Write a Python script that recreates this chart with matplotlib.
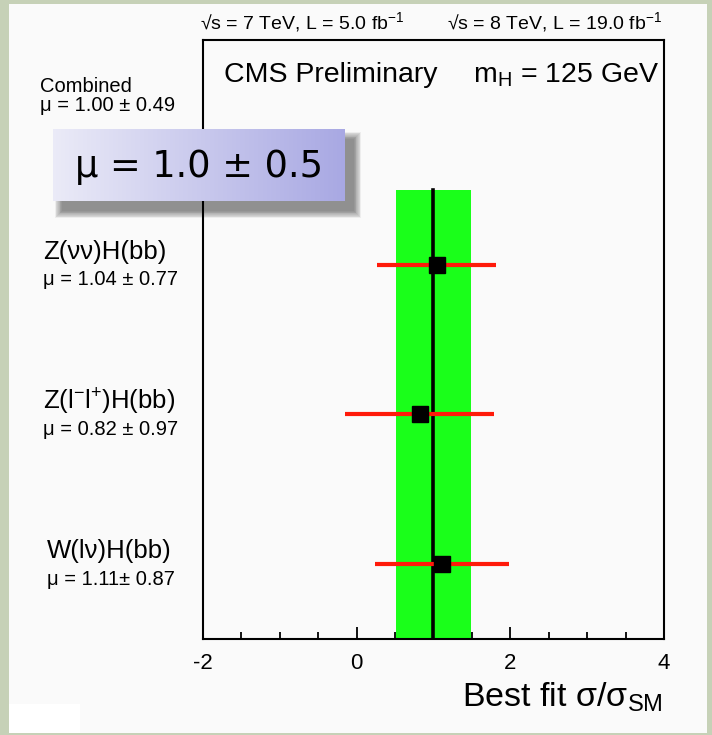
import numpy as np
import matplotlib
matplotlib.use('Agg')
import matplotlib.pyplot as plt
import matplotlib.transforms as mtransforms
from matplotlib.patches import Rectangle

plt.rcParams['font.family'] = ['Liberation Sans', 'DejaVu Sans']
plt.rcParams['mathtext.fontset'] = 'custom'
plt.rcParams['mathtext.rm'] = 'Liberation Sans'
plt.rcParams['mathtext.it'] = 'Liberation Sans'
plt.rcParams['mathtext.default'] = 'regular'

# channel results (bottom to top)
channels = ['W(lν)H(bb)', 'Z(l$^{-}$l$^{+}$)H(bb)', 'Z(νν)H(bb)']
mu = [1.11, 0.82, 1.04]
mu_err = [0.87, 0.97, 0.77]
mu_text = ['μ = 1.11± 0.87', 'μ = 0.82 ± 0.97', 'μ = 1.04 ± 0.77']
ypos = [0.5, 1.5, 2.5]

# combined result
comb_mu = 1.00
comb_err = 0.49
comb_top = 3.0

W, H = 712, 735
fig = plt.figure(figsize=(W / 100, H / 100), dpi=100)
fig.patch.set_facecolor('#c6d1b7')

# light slide panel
fig.patches.append(Rectangle((9 / W, 1 - 733 / H), 698 / W, 729 / H,
                             transform=fig.transFigure, facecolor='#fafafa',
                             edgecolor='none', zorder=-10))
fig.patches.append(Rectangle((9 / W, 1 - 733 / H), 71 / W, 29 / H,
                             transform=fig.transFigure, facecolor='white',
                             edgecolor='none', zorder=-9))

ax = fig.add_axes([203 / W, 1 - 639 / H, 461 / W, 599 / H])
ax.set_zorder(1)
ax.set_facecolor('#fafafa')

# combined band and line
ax.fill_betweenx([0, comb_top], comb_mu - comb_err, comb_mu + comb_err,
                 color='#1aff1a', linewidth=0, zorder=1)
ax.plot([comb_mu, comb_mu], [0, comb_top], color='black', lw=2.6, zorder=2)

ax.errorbar(mu, ypos, xerr=mu_err, fmt='s', color='black', ecolor='#ff1a0a',
            elinewidth=3, capsize=0, markersize=12, zorder=3)

ax.set_xlim(-2, 4)
ax.set_ylim(0, 4)
ax.set_xticks([-2, 0, 2, 4])
ax.set_xticklabels(['-2', '0', '2', '4'], fontsize=16)
ax.set_xticks(np.arange(-2, 4.01, 0.5), minor=True)
ax.set_yticks([])
ax.tick_params(axis='x', which='major', direction='in', length=9, width=1.3, pad=10)
ax.tick_params(axis='x', which='minor', direction='in', length=5, width=1.3)
for s in ax.spines.values():
    s.set_linewidth(1.5)

ax.text(0.998, -0.097, r'Best fit $\sigma/\sigma_{SM}$', transform=ax.transAxes,
        ha='right', va='center', fontsize=24.5)

ax.text(0.046, 0.9416, 'CMS Preliminary', transform=ax.transAxes,
        ha='left', va='center', fontsize=20.5)
ax.text(0.586, 0.9416, 'm$_{H}$ = 125 GeV', transform=ax.transAxes,
        ha='left', va='center', fontsize=20.5)

ax.text(-0.006, 1.030, '√s = 7 TeV, L = 5.0 fb$^{-1}$', transform=ax.transAxes,
        ha='left', va='center', fontsize=14)
ax.text(0.529, 1.030, '√s = 8 TeV, L = 19.0 fb$^{-1}$', transform=ax.transAxes,
        ha='left', va='center', fontsize=14)

# labels left of the axes
trans = mtransforms.blended_transform_factory(fig.transFigure, ax.transData)
lx = [47 / W, 43 / W, 43 / W]
for x, y, name, txt in zip(lx, ypos, channels, mu_text):
    fig.text(x, y + 0.085, name, transform=trans, ha='left', va='center', fontsize=18.5)
    fig.text(x, y - 0.1, txt, transform=trans, ha='left', va='center', fontsize=14.5)
fig.text(40 / W, 3.69, 'Combined', transform=trans, ha='left', va='center', fontsize=14.5)
fig.text(40 / W, 3.56, 'μ = %.2f ± %.2f' % (comb_mu, comb_err), transform=trans,
         ha='left', va='center', fontsize=14.5)

# highlighted result box with soft shadow
bx, by, bw, bh = 53, 129, 292, 72
for i in range(10):
    g = i * 0.8
    fig.patches.append(Rectangle(((bx + 9 - g) / W, 1 - (by + bh + 10 + g) / H),
                                 (bw + 2 * g) / W, (bh + 2 * g) / H,
                                 transform=fig.transFigure, facecolor='black',
                                 alpha=0.05, edgecolor='none', zorder=5))
bax = fig.add_axes([bx / W, 1 - (by + bh) / H, bw / W, bh / H], zorder=10)
t = np.linspace(0, 1, 256)
c0 = np.array([0.92, 0.92, 0.97])
c1 = np.array([0.66, 0.66, 0.89])
grad = (c0[None, :] * (1 - t[:, None]) + c1[None, :] * t[:, None])[None, :, :]
bax.imshow(grad, aspect='auto', extent=[0, 1, 0, 1])
bax.set_axis_off()
bax.text(0.5, 0.48, 'μ = 1.0 ± 0.5', ha='center', va='center', fontsize=26.5,
         family='DejaVu Sans', transform=bax.transAxes)

fig.savefig('out.png', dpi=100, facecolor=fig.get_facecolor())
